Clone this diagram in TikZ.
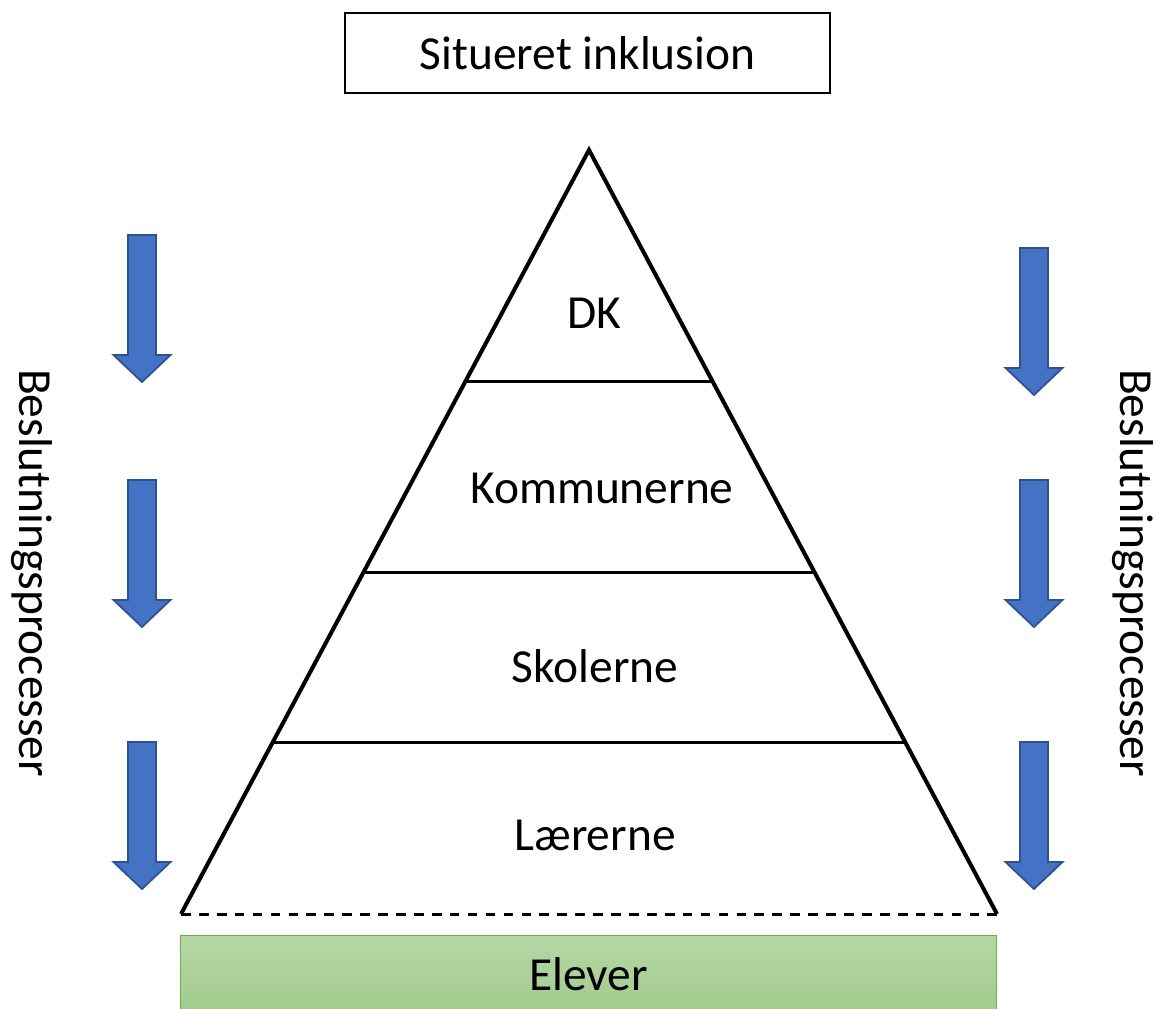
\documentclass[tikz,border=0pt]{standalone}
\usepackage{fontspec}
\setmainfont{Carlito}
\usetikzlibrary{calc}

\definecolor{arrowblue}{HTML}{4472C4}
\definecolor{arrowedge}{HTML}{2F528F}
\definecolor{greentop}{HTML}{B5D7A6}
\definecolor{greenbot}{HTML}{9DC886}
\definecolor{greenedge}{HTML}{70AD47}

\begin{document}
\begin{tikzpicture}[x=0.02cm,y=-0.02cm,
    every node/.style={font=\fontsize{27}{32}\selectfont},
    levellabel/.style={anchor=base},
    sidelabel/.style={rotate=-90},
    edgeline/.style={line width=2.3pt,line join=miter},
    levelline/.style={line width=1.7pt},
    downarrow/.style={fill=arrowblue,draw=arrowedge,line width=1pt}]
  \useasboundingbox (0,0) rectangle (1156,1008);

  % title
  \node[draw,line width=1.1pt,minimum width=9.7cm,minimum height=1.6cm] (title) at (587.5,53) {Situeret inklusion};

  % pyramid
  \coordinate (apex) at (589,150);
  \coordinate (baseleft) at (181,914);
  \coordinate (baseright) at (997,914);
  \draw[edgeline] (baseleft) -- (apex) -- (baseright);
  \foreach \f in {0.3024,0.5524,0.7749}
    \draw[levelline] ($(apex)!\f!(baseleft)$) -- ($(apex)!\f!(baseright)$);
  \draw[line width=1.7pt,dash pattern=on 5.5pt off 4.7pt] (baseleft) -- (baseright);

  \node[levellabel] (dk) at (594,328) {DK};
  \node[levellabel] (kommunerne) at (602,503) {Kommunerne};
  \node[levellabel] (skolerne) at (595,682) {Skolerne};
  \node[levellabel] (laererne) at (595,850) {Lærerne};

  % elever (runs past the bottom edge)
  \node[draw=greenedge,line width=0.6pt,top color=greentop,bottom color=greenbot,
        anchor=north,inner ysep=0pt,text height=1.1cm,text depth=0.8cm,
        minimum width=16.34cm] (elever) at (588.5,935) {Elever};

  % arrows
  \foreach \x/\y in {142/235,142/480,142/742,1034/248,1034/480,1034/742}
    \draw[downarrow] (\x-14,\y) -- (\x+14,\y) -- (\x+14,\y+120) -- (\x+28.5,\y+120)
      -- (\x,\y+147) -- (\x-28.5,\y+120) -- (\x-14,\y+120) -- cycle;

  \node[sidelabel] (leftlabel) at (32,573) {Beslutningsprocesser};
  \node[sidelabel] (rightlabel) at (1133,573) {Beslutningsprocesser};
\end{tikzpicture}
\end{document}
